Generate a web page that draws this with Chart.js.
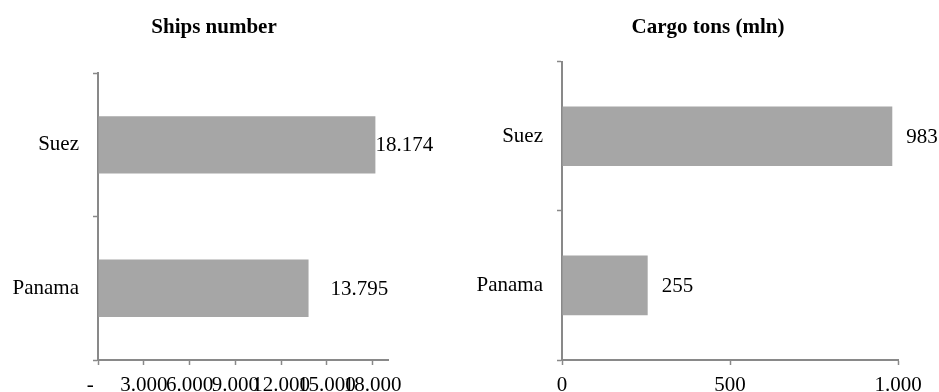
<!DOCTYPE html>
<html><head><meta charset="utf-8">
<script src="https://cdn.jsdelivr.net/npm/chart.js@4"></script>
<style>
html,body{margin:0;padding:0;background:#fff;width:939px;height:392px;overflow:hidden}
.box{position:absolute;top:0;height:392px}
canvas{display:block}
</style></head><body>
<div class="box" style="left:0;width:470px"><canvas id="c1" width="470" height="392"></canvas></div>
<div class="box" style="left:470px;width:469px"><canvas id="c2" width="469" height="392"></canvas></div>
<script>
const categories = ['Suez', 'Panama'];
const shipsValues = [18174, 13795];
const cargoValues = [983, 255];
const shipsTicks = [0, 3000, 6000, 9000, 12000, 15000, 18000];
const cargoTicks = [0, 500, 1000];
const shipsTitle = 'Ships number';
const cargoTitle = 'Cargo tons (mln)';

const FONT = '"Liberation Serif", "Times New Roman", serif';
const FS = 21;
const AXIS = '#898989';
const BAR = '#a6a6a6';

function fmt(v) { return String(v).replace(/\B(?=(\d{3})+(?!\d))/g, '.'); }

const labelPlugin = {
  id: 'valLabels',
  afterDatasetsDraw(chart, args, opts) {
    const ctx = chart.ctx;
    const meta = chart.getDatasetMeta(0);
    ctx.save();
    ctx.font = FS + 'px ' + FONT;
    ctx.fillStyle = '#000';
    ctx.textBaseline = 'middle';
    ctx.textAlign = 'left';
    meta.data.forEach((bar, i) => {
      const txt = fmt(chart.data.datasets[0].data[i]);
      const w = ctx.measureText(txt).width;
      let x = bar.x + opts.offset;
      if (x + w > opts.limit) x = Math.max(bar.x, opts.limit - w);
      ctx.fillText(txt, x, bar.y + 1);
    });
    ctx.restore();
  }
};

function makeChart(id, title, values, ticks, max, zeroLabel, pad, yWidth, titleBottom, labelOpts) {
  return new Chart(document.getElementById(id), {
    type: 'bar',
    data: {
      labels: categories,
      datasets: [{ data: values, backgroundColor: BAR, borderWidth: 0,
        barPercentage: 0.4, categoryPercentage: 1 }]
    },
    options: {
      indexAxis: 'y',
      responsive: false,
      animation: false,
      layout: { padding: pad },
      plugins: {
        legend: { display: false },
        tooltip: { enabled: false },
        title: { display: true, text: title, color: '#000',
          font: { family: FONT, size: FS, weight: 'bold' },
          padding: { top: 15, bottom: titleBottom } },
        valLabels: labelOpts
      },
      scales: {
        y: {
          type: 'category',
          grid: { display: true, drawOnChartArea: false, drawTicks: true, tickLength: 5,
            tickColor: AXIS, tickWidth: 1.5, offset: true },
          border: { display: true, color: AXIS, width: 2 },
          ticks: { color: '#000', font: { family: FONT, size: FS }, padding: 14 },
          afterFit(s) { s.width = yWidth; },
          afterUpdate(s) { s._computeLabelArea = () => undefined; }
        },
        x: {
          type: 'linear', min: 0, max: max,
          grid: { display: true, drawOnChartArea: false, drawTicks: true, tickLength: 5,
            tickColor: AXIS, tickWidth: 1.5 },
          border: { display: true, color: AXIS, width: 2 },
          ticks: { color: '#000', font: { family: FONT, size: FS }, padding: 8,
            autoSkip: false, maxRotation: 0, minRotation: 0,
            callback: (v) => v === 0 ? zeroLabel : fmt(v) },
          afterBuildTicks(s) { s.ticks = ticks.map(v => ({ value: v })); },
          afterFit(s) { s.height = 32; },
          afterUpdate(s) { s._computeLabelArea = () => undefined; }
        }
      }
    },
    plugins: [labelPlugin]
  });
}

makeChart('c1', shipsTitle, shipsValues, shipsTicks, 19000, '-   ',
  { left: 40, right: 82, top: 0, bottom: 0 }, 58, 33, { offset: 22, limit: 433 });
makeChart('c2', cargoTitle, cargoValues, cargoTicks, 1000, '0',
  { left: 48, right: 41, top: 0, bottom: 0 }, 44, 21.5, { offset: 14, limit: 469 });
</script>
</body></html>
